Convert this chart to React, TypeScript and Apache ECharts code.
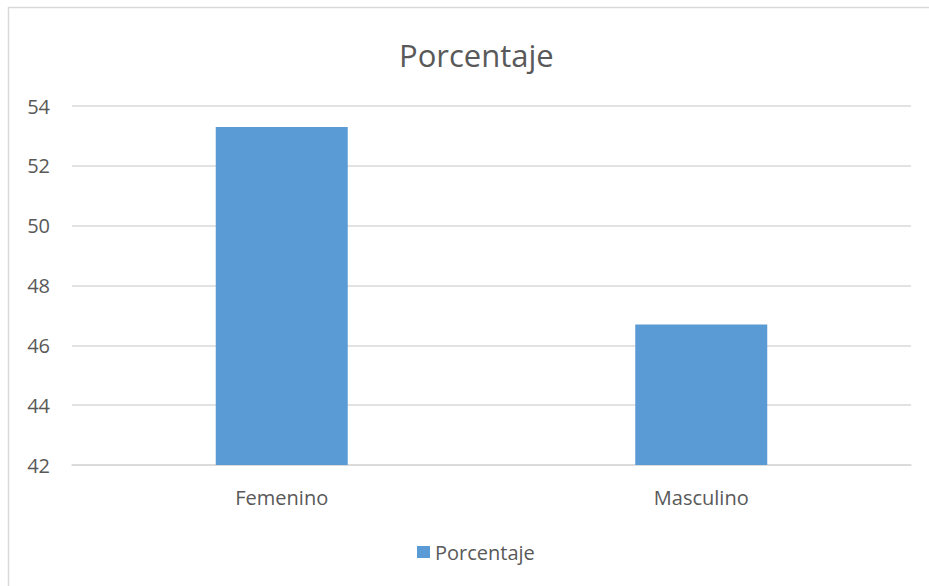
import React, { useEffect, useRef } from "react";
import * as echarts from "echarts";

const categories = ["Femenino", "Masculino"];
const seriesName = "Porcentaje";
const values = [53.3, 46.7];
const yMin = 42;
const yMax = 54;
const yStep = 2;

export default function App() {
  const ref = useRef<HTMLDivElement>(null);
  useEffect(() => {
    document.body.style.margin = "0";
    const chart = echarts.init(ref.current!, null, { renderer: "svg" });
    const font = "'Open Sans', 'Noto Sans', sans-serif";
    chart.setOption({
      animation: false,
      backgroundColor: "#ffffff",
      textStyle: { fontFamily: font },
      title: {
        text: "Porcentaje",
        left: 394,
        top: 34,
        textStyle: { fontSize: 31, fontWeight: "normal", color: "#595959", fontFamily: font },
      },
      graphic: [
        {
          type: "rect",
          shape: { x: 8.5, y: 7.5, width: 1000, height: 1000 },
          style: { fill: "none", stroke: "#d9d9d9", lineWidth: 1.5 },
          silent: true,
        },
      ],
      legend: {
        top: 537,
        left: 412,
        data: [seriesName],
        icon: "rect",
        itemWidth: 13,
        itemHeight: 12,
        itemGap: 6,
        textStyle: { fontSize: 20, color: "#595959", fontFamily: font },
      },
      grid: { left: 72, right: 18, top: 106, bottom: 121, containLabel: false },
      xAxis: {
        type: "category",
        data: categories,
        axisLine: { show: true, lineStyle: { color: "#d9d9d9", width: 1.5 } },
        axisTick: { show: false },
        axisLabel: { fontSize: 20, color: "#595959", margin: 22, fontFamily: font },
      },
      yAxis: {
        type: "value",
        min: yMin,
        max: yMax,
        interval: yStep,
        axisLine: { show: false },
        axisTick: { show: false },
        splitLine: { lineStyle: { color: "#d9d9d9", width: 1.5 } },
        axisLabel: { fontSize: 20, color: "#595959", margin: 22, fontFamily: font },
      },
      series: [
        {
          name: seriesName,
          type: "bar",
          data: values,
          barWidth: 132,
          itemStyle: { color: "#5b9bd5" },
        },
      ],
    });
    return () => chart.dispose();
  }, []);
  return (
    <div
      ref={ref}
      style={{ position: "absolute", left: 0, top: 0, width: 929, height: 586 }}
    />
  );
}
